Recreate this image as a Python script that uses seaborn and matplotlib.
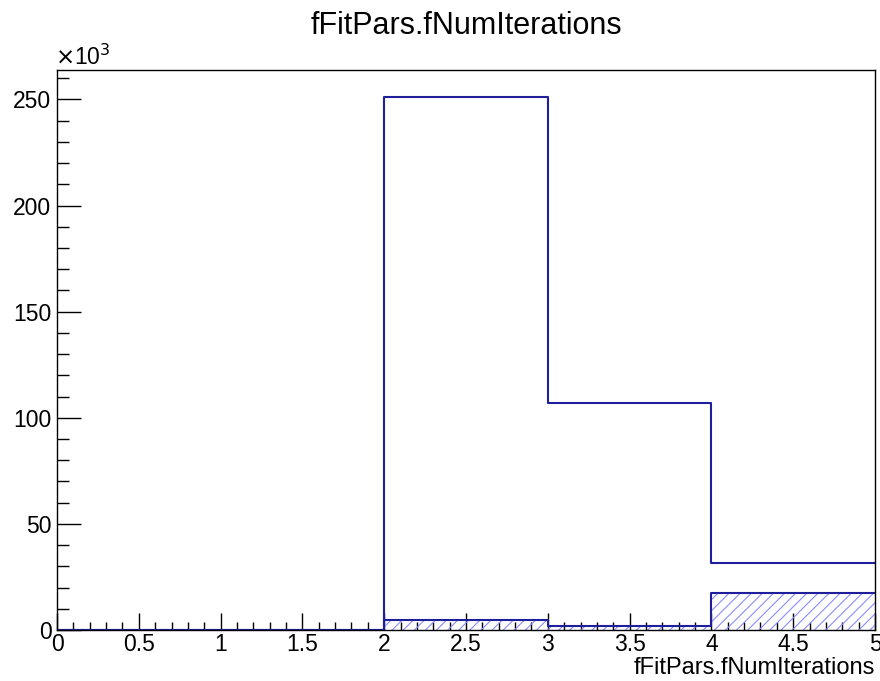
import numpy as np
import matplotlib
matplotlib.use("Agg")
import matplotlib.pyplot as plt
import seaborn as sns
from matplotlib.ticker import MultipleLocator, FuncFormatter
from matplotlib.transforms import offset_copy

# Data (bin edges and counts)
bin_edges = [0, 1, 2, 3, 4, 5]
bin_centers = [0.5, 1.5, 2.5, 3.5, 4.5]
counts_all = [0, 0, 251400, 106900, 31400]
counts_sel = [0, 0, 4500, 2000, 17400]

title = "fFitPars.fNumIterations"
xlabel = "fFitPars.fNumIterations"

sns.set_style("ticks")
plt.rcParams['font.family'] = ['Liberation Sans', 'DejaVu Sans']
plt.rcParams['hatch.linewidth'] = 0.8
plt.rcParams['text.color'] = 'black'
plt.rcParams['xtick.labelcolor'] = 'black'
plt.rcParams['ytick.labelcolor'] = 'black'
plt.rcParams['axes.labelcolor'] = 'black'

DARK = "#1f1f9c"
LIGHT = "#8c8cff"

fig = plt.figure(figsize=(8.8, 6.81), dpi=100)
ax = fig.add_axes([57/880, 51/681, 818/880, 560/681])

sns.histplot(x=bin_centers, weights=counts_sel, bins=bin_edges, element="step",
             fill=True, color=LIGHT, facecolor="none", edgecolor=LIGHT, hatch="///",
             linewidth=0, ax=ax)
sns.histplot(x=bin_centers, weights=counts_sel, bins=bin_edges, element="step",
             fill=False, color=DARK, linewidth=1.5, ax=ax)
sns.histplot(x=bin_centers, weights=counts_all, bins=bin_edges, element="step",
             fill=False, color=DARK, linewidth=1.5, ax=ax)

ax.set_xlim(0, 5)
ax.set_ylim(0, 263900)

ax.xaxis.set_major_locator(MultipleLocator(0.5))
ax.xaxis.set_minor_locator(MultipleLocator(0.1))
ax.yaxis.set_major_locator(MultipleLocator(50000))
ax.yaxis.set_minor_locator(MultipleLocator(10000))
ax.yaxis.set_major_formatter(FuncFormatter(lambda v, p: f"{v/1000:g}"))
ax.xaxis.set_major_formatter(FuncFormatter(lambda v, p: f"{v:g}"))

ax.tick_params(axis="both", which="both", direction="in", color="black",
               labelsize=16.5, width=1, top=False, right=False, labelcolor="black")
ax.tick_params(axis="y", which="major", length=17, pad=4)
ax.tick_params(axis="y", which="minor", length=8.6)
ax.tick_params(axis="x", which="major", length=12, pad=2)
ax.tick_params(axis="x", which="minor", length=6)

for s in ax.spines.values():
    s.set_visible(True)
    s.set_color("black")
    s.set_linewidth(1)

ax.set_ylabel("")
ax.set_xlabel(xlabel, fontsize=17, loc="right", labelpad=1, color="black")
fig.text(466/880, 1 - 34/681, title, ha="center", va="baseline", fontsize=22, color="black")
ax.text(-0.003, 1.0, r"$\times$10$^{3}$",
        transform=offset_copy(ax.transAxes, fig=fig, x=0, y=5, units="dots"),
        ha="left", va="baseline", fontsize=16.5, color="black")

fig.savefig("out.png", dpi=100)
